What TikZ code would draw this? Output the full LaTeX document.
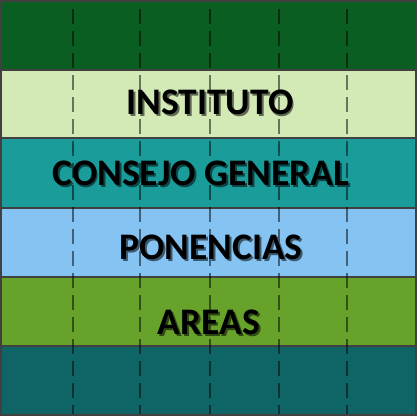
\documentclass[tikz,border=0pt]{standalone}
\usepackage{fontspec}
\setmainfont{Carlito}
\definecolor{bandA}{HTML}{0B5E22}
\definecolor{bandB}{HTML}{D3EAB6}
\definecolor{bandC}{HTML}{1A9C9B}
\definecolor{bandD}{HTML}{85C3F3}
\definecolor{bandE}{HTML}{67A22B}
\definecolor{bandF}{HTML}{0F6466}
\definecolor{frame}{HTML}{404040}
\newcommand{\shadowed}[2]{\rlap{\kern1.8pt\raisebox{-2pt}{\textcolor{black!55!#1}{#2}}}#2}
\begin{document}
\begin{tikzpicture}[x=1pt,y=1pt,
  bandtxt/.style={font=\fontsize{37.5}{40}\selectfont\bfseries, text=black, inner sep=0pt},
  gridline/.style={draw=black, draw opacity=0.5, line width=1.7pt, dash pattern=on 15pt off 7pt},
  sepline/.style={draw=frame, line width=1.2pt}]
\useasboundingbox (0,0) rectangle (417,416);
\fill[frame] (0,0) rectangle (417,416);
\fill[bandA] (2,346) rectangle (415,414);
\fill[bandB] (2,278) rectangle (415,346);
\fill[bandC] (2,208) rectangle (415,278);
\fill[bandD] (2,139) rectangle (415,208);
\fill[bandE] (2,70) rectangle (415,139);
\fill[bandF] (2,2) rectangle (415,70);
\foreach \y in {346,278,208,139,70} \draw[sepline] (2,\y) -- (415,\y);
\foreach \x in {73,140,210,279,347} \draw[gridline] (\x,407) -- (\x,2);
\node[bandtxt] (inst) at (210,313) {\shadowed{bandB}{INSTITUTO}};
\node[bandtxt] (cons) at (201,242) {\shadowed{bandC}{CONSEJO GENERAL}};
\node[bandtxt] (pon) at (211,168) {\shadowed{bandD}{PONENCIAS}};
\node[bandtxt] (are) at (209,93) {\shadowed{bandE}{AREAS}};
\end{tikzpicture}
\end{document}
